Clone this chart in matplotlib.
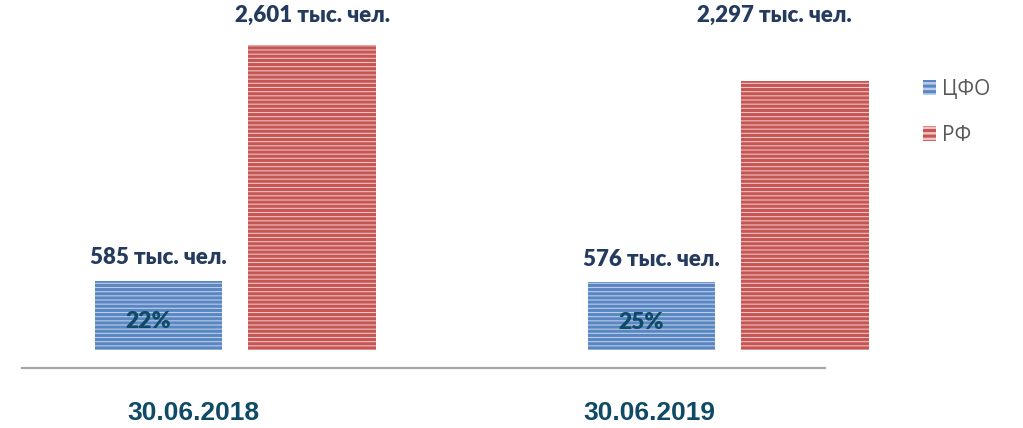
import matplotlib.pyplot as plt
import matplotlib.patches as mpatches

dates = ["30.06.2018", "30.06.2019"]
cfo = [585, 576]
rf = [2601, 2297]
shares = ["22%", "25%"]
cfo_labels = ["585 тыс. чел.", "576 тыс. чел."]
rf_labels = ["2,601 тыс. чел.", "2,297 тыс. чел."]

plt.rcParams['hatch.linewidth'] = 2.2

fig = plt.figure(figsize=(10.23, 4.28), dpi=100)
ax = fig.add_axes([0, 0, 1, 1])
ax.set_xlim(-0.477, 1.598)
ax.set_ylim(-665, 2985)
ax.axis("off")

x = [0, 1]
w = 0.258
off = 0.156

ax.bar([i - off for i in x], cfo, width=w, color="#B9CDE8", edgecolor="#5A87C2",
       hatch="----", linewidth=0)
ax.bar([i + off for i in x], rf, width=w, color="#EBC3C2", edgecolor="#C65553",
       hatch="----", linewidth=0)

# baseline
ax.plot([-0.4326, 1.196], [-153, -153], color="#A6A6A6", lw=1.6)

navy = "#243B5E"
teal = "#0F4A66"
for i in x:
    ax.text(i - off, cfo[i] + 200, cfo_labels[i], ha="center", va="center",
            fontsize=16, fontweight="heavy", color=navy, family="Lato")
    ax.text(i - off - 0.02, cfo[i] * 0.41, shares[i], ha="center", va="center",
            fontsize=16.5, fontweight="heavy", color=teal, family="Lato")
    ax.text(i * 0.925 - 0.084, -535, dates[i], ha="center", va="center",
            fontsize=19, fontweight="bold", color=teal, family="Liberation Sans")

ax.text(0 + off, rf[0] + 255, rf_labels[0], ha="center", va="center",
        fontsize=16, fontweight="heavy", color=navy, family="Lato")
ax.text(1 + off - 0.063, rf[1] + 560, rf_labels[1], ha="center", va="center",
        fontsize=16, fontweight="heavy", color=navy, family="Lato")

legend_handles = [
    mpatches.Patch(facecolor="#B9CDE8", edgecolor="#5A87C2", hatch="---", linewidth=0, label="ЦФО"),
    mpatches.Patch(facecolor="#EBC3C2", edgecolor="#C65553", hatch="---", linewidth=0, label="РФ"),
]
leg = ax.legend(handles=legend_handles, loc="upper left", bbox_to_anchor=(0.884, 0.86),
                frameon=False, prop={"family": "Open Sans", "size": 15},
                handlelength=0.6, handleheight=0.7, handletextpad=0.3, labelspacing=1.2)
for t in leg.get_texts():
    t.set_color("#595959")

plt.savefig("out.png", dpi=100)
